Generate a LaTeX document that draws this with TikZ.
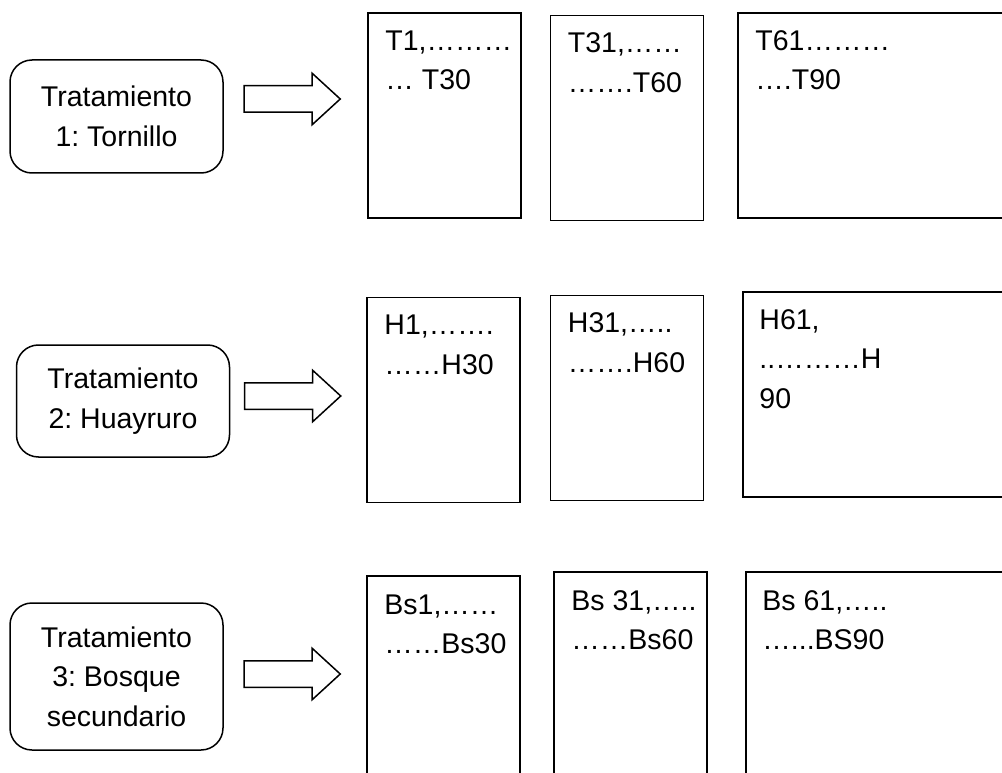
\documentclass[tikz,border=0pt]{standalone}
\usepackage{fontspec}
\setmainfont{Liberation Sans}
\usetikzlibrary{shapes,arrows,positioning}
\frenchspacing

\begin{document}
\begin{tikzpicture}[x=1pt,y=-1pt,font=\fontsize{28.5}{39.5}\selectfont,
    trat/.style={draw,line width=1.5pt,rounded corners=22pt,align=center,inner sep=0pt,minimum width=213pt},
    lote/.style={draw,line width=1.5pt,inner sep=0pt,minimum width=153pt,minimum height=205pt},
    ancho/.style={lote,minimum width=300pt},
    flecha/.style={draw,line width=1.5pt,single arrow,inner xsep=0pt,inner ysep=12.5pt,minimum height=96pt,
        single arrow head extend=12.5pt,single arrow tip angle=85},
    dato/.style={anchor=north west,inner sep=0pt,align=left}]
            \useasboundingbox (0,0) rectangle (1002,773);
            \clip (0,0) rectangle (1002,773);
            \draw (116.5,116.5) node[trat,minimum height=113pt] (t1) {Tratamiento\\1: Tornillo};
            \draw (123,401) node[trat,minimum height=112pt] (t2) {Tratamiento\\2: Huayruro};
            \draw (116.5,676.5) node[trat,minimum height=147pt] (t3) {Tratamiento\\3: Bosque\\secundario};
            \draw (285,99) node[flecha] (a1) {};
            \draw (285.5,396) node[flecha] (a2) {};
            \draw (285,674) node[flecha] (a3) {};
            \draw (444.5,115.5) node[lote] (b11) {};
            \draw (627,118) node[lote] (b12) {};
            \draw (888,115.5) node[ancho] (b13) {};
            \draw (443.5,400) node[lote] (b21) {};
            \draw (627,398) node[lote] (b22) {};
            \draw (893,394.5) node[ancho] (b23) {};
            \draw (443.5,678.5) node[lote] (b31) {};
            \draw (630.5,674.5) node[lote] (b32) {};
            \draw (896,674.5) node[ancho] (b33) {};
            \node[dato] (l11) at ([shift={(18,18)}]b11.north west) {T1,………\\… T30};
            \node[dato] (l12) at ([shift={(18,18)}]b12.north west) {T31,……\\…….T60};
            \node[dato] (l13) at ([shift={(18,18)}]b13.north west) {T61………\\….T90};
            \node[dato] (l21) at ([shift={(18,18)}]b21.north west) {H1,…….\\……H30};
            \node[dato] (l22) at ([shift={(18,18)}]b22.north west) {H31,…..\\…….H60};
            \node[dato] (l23) at ([shift={(17,18)}]b23.north west) {H61,\\..………H\\90};
            \node[dato] (l31) at ([shift={(18,19)}]b31.north west) {Bs1,……\\……Bs30};
            \node[dato] (l32) at ([shift={(18,19)}]b32.north west) {Bs 31,…..\\……Bs60};
            \node[dato] (l33) at ([shift={(17,19)}]b33.north west) {Bs 61,…..\\…...BS90};
        \end{tikzpicture}
\end{document}
